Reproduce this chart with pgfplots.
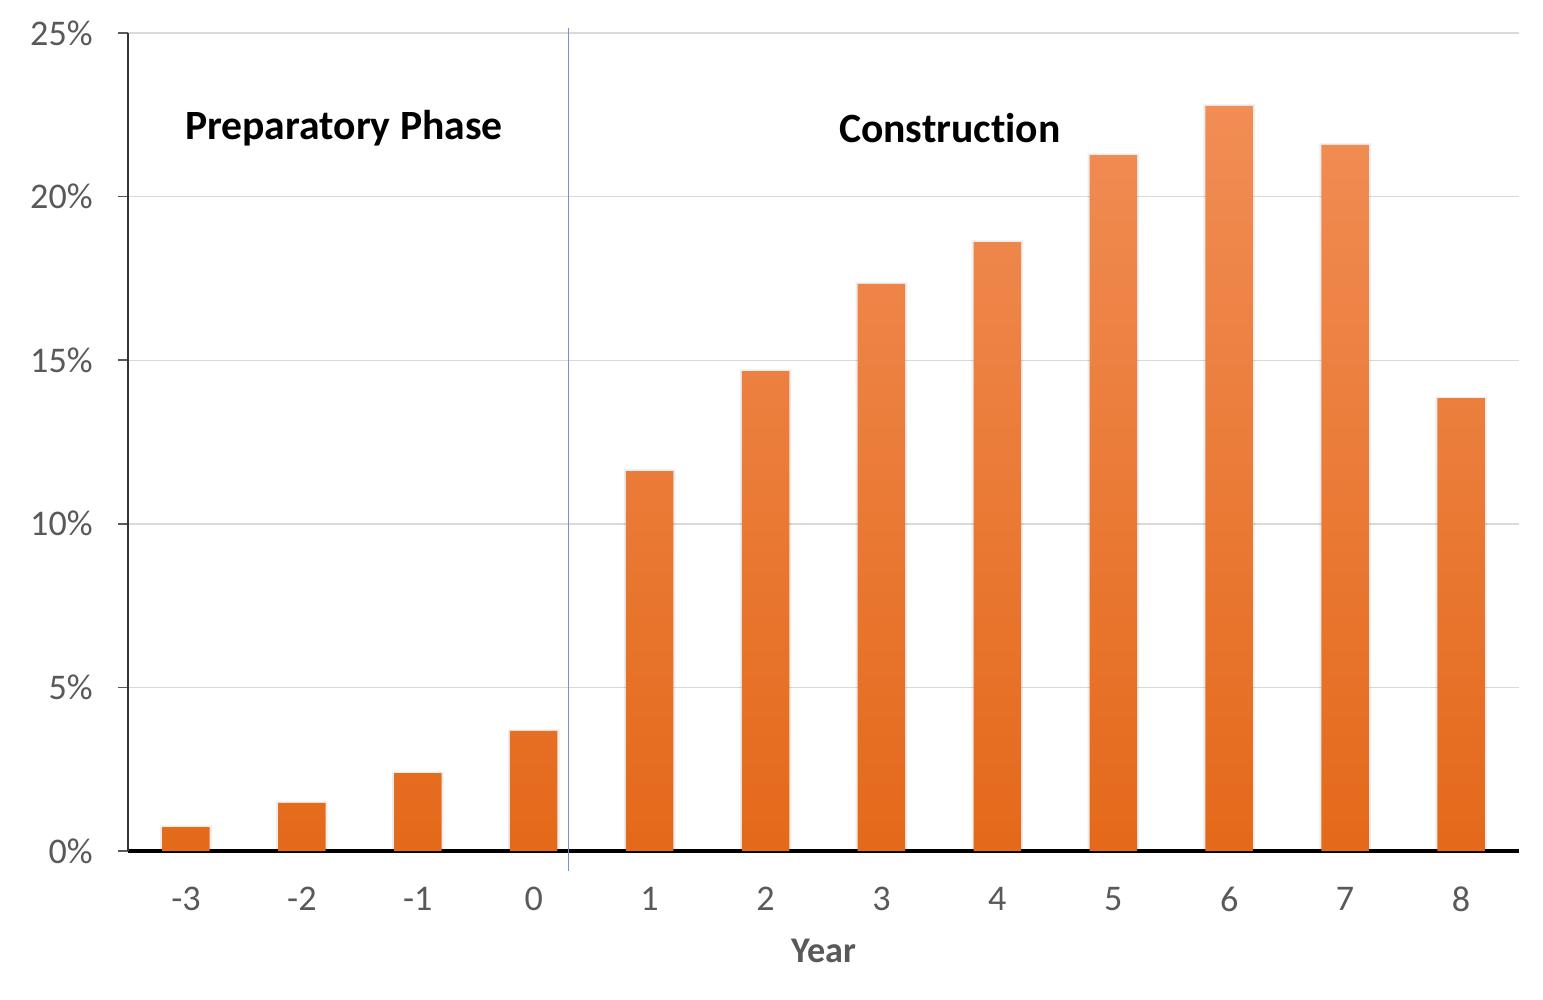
\documentclass[border=0pt]{standalone}
\usepackage{pgfplots}
\usepackage{pgfplotstable}
\pgfplotsset{compat=1.18}
\usepackage{fontspec}
\setmainfont{Carlito}[Ligatures={NoCommon}]

\definecolor{labelgrey}{HTML}{595959}
\definecolor{gridgrey}{HTML}{D9D9D9}
\definecolor{barTop}{HTML}{F18D55}
\definecolor{barMid}{HTML}{F68026}
\definecolor{barBot}{HTML}{E4691A}
\definecolor{phaseline}{HTML}{7393CF}

\pgfplotstableread{
year share
-3 0.73
-2 1.47
-1 2.38
0  3.67
1  11.61
2  14.67
3  17.33
4  18.61
5  21.27
6  22.77
7  21.58
8  13.84
}\sharetable

\begin{document}
\begin{tikzpicture}
\begin{axis}[
  name=ax,
  scale only axis,
  width=500.76pt, height=294.48pt,
  xmin=-3.5, xmax=8.5,
  ymin=0, ymax=25,
  axis x line=bottom, axis y line=left,
  x axis line style={-, black, line width=1.1pt},
  y axis line style={-, black!80, line width=0.7pt},
  xtick={-3,...,8},
  xtick style={draw=none},
  ytick={0,5,...,25},
  ytick style={draw=labelgrey, line width=0.6pt},
  tick align=outside,
  major tick length=3.6pt,
  ymajorgrids,
  grid style={gridgrey, line width=0.5pt},
  /pgf/number format/assume math mode=true,
  yticklabel={\pgfmathprintnumber{\tick}\%},
  ticklabel style={font=\fontsize{13}{15}\selectfont, text=labelgrey},
  yticklabel style={xshift=-5.6pt},
  xticklabel style={yshift=-5.8pt},
  xlabel={\textbf{Year}},
  xlabel style={font=\fontsize{13}{15}\selectfont, text=labelgrey, yshift=-3pt},
  clip=false,
]
  % soft shadow behind the bars
  \addplot[ybar, bar width=0.445, draw=none, fill=black, fill opacity=0.07, forget plot]
    table[x=year, y expr=\thisrow{share}+0.05] {\sharetable};
  \addplot[ybar, bar width=0.41, draw=none,
           top color=barTop, middle color=barMid, bottom color=barBot]
    table[x=year, y=share] {\sharetable};
  \addplot[phaseline, line width=0.5pt] coordinates {(0.3,-0.61) (0.3,25.15)};
  \node[font=\fontsize{15}{18}\selectfont\bfseries] at (axis cs:-1.637,22.1) {Preparatory Phase};
  \node[font=\fontsize{15}{18}\selectfont\bfseries] at (axis cs:3.59,22.1) {Construction};
\end{axis}
\pgfresetboundingbox
\path[use as bounding box]
  ([shift={(-46.08pt,-53.28pt)}]ax.south west)
  rectangle ([shift={(509.4pt,306.36pt)}]ax.south west);
\end{tikzpicture}
\end{document}
